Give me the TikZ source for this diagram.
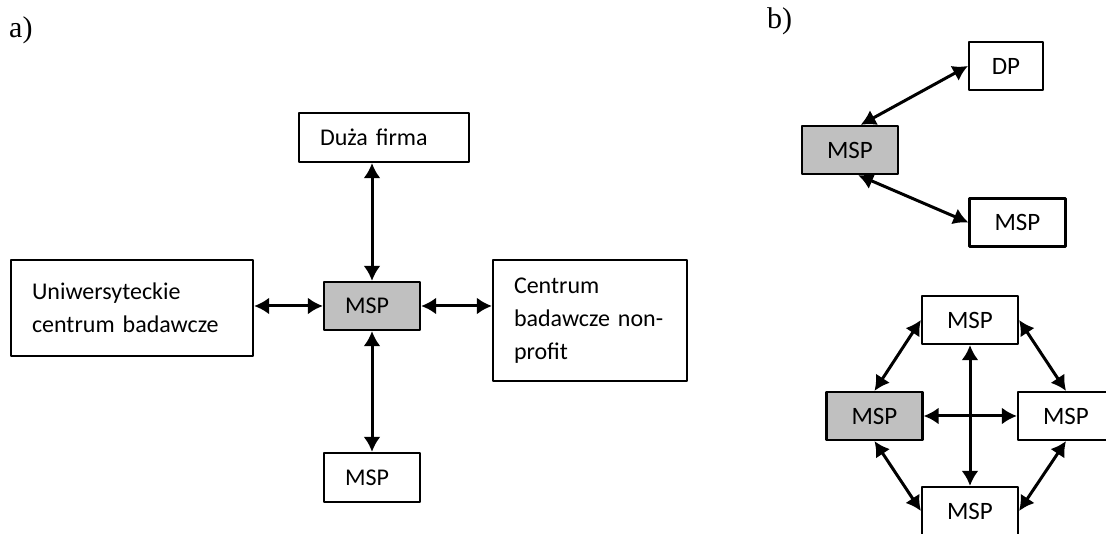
\documentclass[tikz,border=0pt]{standalone}
\usepackage{fontspec}
\setmainfont{Carlito}
\newfontfamily\partfont{Liberation Serif}
\usetikzlibrary{arrows.meta}

\definecolor{mspgray}{RGB}{192,192,192}

\tikzset{
  leftbox/.style={draw, line width=2.2pt, align=left, inner xsep=21pt, inner ysep=0pt, font=\fontsize{24}{33}\selectfont},
  rightbox/.style={draw, line width=2.2pt, inner sep=0pt, minimum width=96pt, minimum height=48pt, font=\fontsize{25}{30}\selectfont},
  partlabel/.style={anchor=base west, inner sep=0pt, font=\partfont\fontsize{30}{34}\selectfont},
  link/.style={line width=3pt, {Latex[length=15pt, width=17pt]}-{Latex[length=15pt, width=17pt]}}
}

\begin{document}
\begin{tikzpicture}[line cap=round,line join=round, x=1pt, y=1pt]
\clip(0,0) rectangle (1106,534);
% a)
\node[partlabel] (la) at (9,496) {a)};
\node[leftbox, text width=128pt, minimum height=49pt] (big) at (384,396.5) {Duża firma};
\node[leftbox, text width=200pt, minimum height=96pt] (uni) at (132,226) {Uniwersyteckie\\centrum badawcze};
\node[leftbox, text width=54pt, minimum height=48pt, fill=mspgray] (msp) at (372,228) {MSP};
\node[leftbox, text width=152pt, minimum height=121pt] (cent) at (590,213.5) {Centrum\\badawcze non-\\profit};
\node[leftbox, text width=54pt, minimum height=49pt] (mspb) at (372,56.5) {MSP};
\draw [link] (big.south -| msp.north) -- (msp.north);
\draw [link] (uni.east |- msp.west) -- (msp.west);
\draw [link] (msp.east) -- (msp.east -| cent.west);
\draw [link] (msp.south) -- (mspb.north);
% b)
\node[partlabel] (lb) at (767,505) {b)};
\node[rightbox, minimum width=74pt] (dp) at (1006,468) {DP};
\node[rightbox, fill=mspgray] (pair) at (850,384) {MSP};
\node[rightbox] (pairb) at (1017.5,311.5) {MSP};
\draw [link] (pair.67) -- (dp.west);
\draw [link] (pair.-72) -- (pairb.west);
\node[rightbox] (ntop) at (970,214) {MSP};
\node[rightbox, fill=mspgray] (nleft) at (874.5,118) {MSP};
\node[rightbox] (nright) at (1066,118) {MSP};
\node[rightbox] (nbot) at (970,23) {MSP};
\draw [link] (nleft.north) -- (ntop.west);
\draw [link] (ntop.east) -- (nright.north);
\draw [link] (nleft.south) -- (nbot.west);
\draw [link] (nbot.east) -- (nright.south);
\draw [link] (ntop.south) -- (nbot.north);
\draw [link] (nleft.east) -- (nright.west);
\end{tikzpicture}
\end{document}
